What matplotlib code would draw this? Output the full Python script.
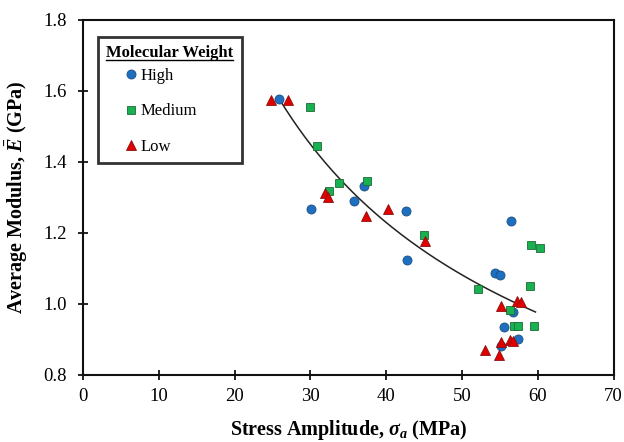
import matplotlib
matplotlib.use("Agg")
import matplotlib.pyplot as plt
import numpy as np
from matplotlib.lines import Line2D

plt.rcParams['font.family'] = ['Liberation Serif', 'DejaVu Serif']
plt.rcParams['mathtext.fontset'] = 'custom'
plt.rcParams['mathtext.rm'] = 'Liberation Serif:bold'
plt.rcParams['mathtext.it'] = 'Liberation Serif:italic:bold'
plt.rcParams['mathtext.bf'] = 'Liberation Serif:bold'

# ---- data ----
high_x = [25.87, 30.09, 35.82, 37.03, 42.56, 42.76, 54.42, 55.02, 56.53, 56.73, 55.53, 57.44, 55.12]
high_y = [1.578, 1.268, 1.291, 1.333, 1.263, 1.124, 1.086, 1.083, 1.235, 0.978, 0.936, 0.902, 0.882]

med_x = [29.89, 30.90, 32.41, 33.81, 37.43, 44.97, 52.11, 56.33, 59.15, 60.25, 58.94, 56.83, 57.44, 59.55]
med_y = [1.554, 1.444, 1.319, 1.341, 1.347, 1.194, 1.042, 0.982, 1.167, 1.158, 1.052, 0.939, 0.939, 0.939]

low_x = [24.76, 27.08, 31.90, 32.30, 37.33, 40.25, 45.07, 55.12, 57.24, 57.84, 53.01, 55.12, 54.92, 56.33, 56.73]
low_y = [1.575, 1.575, 1.312, 1.302, 1.247, 1.268, 1.178, 0.994, 1.009, 1.006, 0.870, 0.894, 0.857, 0.899, 0.895]

# trend line (power law y = a * x^b)
trend_a = 10.18
trend_b = -0.573
trend_range = [25.95, 59.7]

x_ticks = [0, 10, 20, 30, 40, 50, 60, 70]
y_ticks = [0.8, 1.0, 1.2, 1.4, 1.6, 1.8]

fig = plt.figure(figsize=(6.24, 4.42), dpi=100)
ax = fig.add_axes([0.1330, 0.1516, 0.9832 - 0.1330, 0.9548 - 0.1516])

tx = np.linspace(trend_range[0], trend_range[1], 200)
ax.plot(tx, trend_a * tx ** trend_b, color='#222222', lw=1.1, zorder=2)

ax.plot(high_x, high_y, 'o', ms=6.5, mfc='#1F6FC0', mec='#1A4F80', mew=0.6,
        ls='none', zorder=3, label='High')
ax.plot(med_x, med_y, 's', ms=6.0, mfc='#18B050', mec='#1E6B35', mew=0.6,
        ls='none', zorder=3, label='Medium')
ax.plot(low_x, low_y, '^', ms=6.7, mfc='#E00000', mec='#8A1010', mew=0.6,
        ls='none', zorder=3, label='Low')

ax.set_xlim(0, 70)
ax.set_ylim(0.8, 1.8)
ax.set_xticks(x_ticks)
ax.set_yticks(y_ticks)
ax.set_yticklabels([f"{v:.1f}" for v in y_ticks])
ax.tick_params(direction='inout', length=7, width=1.2, labelsize=13.5)
ax.tick_params(axis='y', pad=8)
ax.tick_params(axis='x', pad=6)
for s in ax.spines.values():
    s.set_linewidth(1.5)
    s.set_color('#111111')

ax.set_xlabel(r'Stress Amplitude, $\sigma_a$ (MPa)', fontsize=14.5, fontweight='bold', labelpad=9)
ax.set_ylabel(r'Average Modulus, $\bar{E}$ (GPa)', fontsize=14.5, fontweight='bold', labelpad=10)

leg = ax.legend(title='Molecular Weight', loc='upper left',
                bbox_to_anchor=(0.028, 0.952), frameon=True, fancybox=False,
                edgecolor='black', fontsize=12, title_fontsize=12,
                labelspacing=1.15, handlelength=3.0, handletextpad=-0.93,
                borderpad=0.5, borderaxespad=0, alignment='left')
leg.get_title().set_fontweight('bold')
leg.get_frame().set_linewidth(2.0)
leg._legend_box.sep = 5

fig.canvas.draw()
tb = leg.get_title().get_window_extent()
inv = fig.transFigure.inverted()
(x0, y0), (x1, y1) = inv.transform([[tb.x0, tb.y0], [tb.x1, tb.y0]])
fig.add_artist(Line2D([x0, x1], [y0 + 0.004, y0 + 0.004], color='black', lw=1.0,
                      transform=fig.transFigure))

fig.savefig('out.png', dpi=100)
